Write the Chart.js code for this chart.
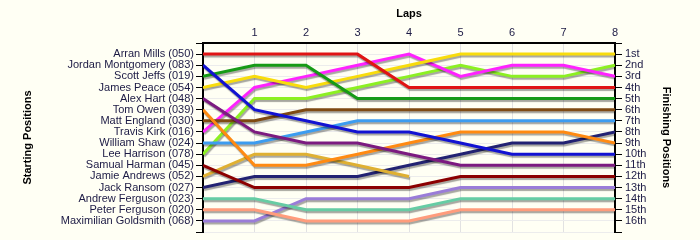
<!DOCTYPE html>
<html>
<head>
<meta charset="utf-8">
<script src="https://cdn.jsdelivr.net/npm/chart.js@4.4.1/dist/chart.umd.min.js"></script>
<style>
  html, body { margin: 0; padding: 0; background: #fffff4; }
  #wrap { width: 700px; height: 240px; }
</style>
</head>
<body>
<div id="wrap"><canvas id="c" width="700" height="240"></canvas></div>
<script>
// ---- Data ----
const laps = [0, 1, 2, 3, 4, 5, 6, 7, 8];
const drivers = [
  'Arran Mills (050)', 'Jordan Montgomery (083)', 'Scott Jeffs (019)', 'James Peace (054)',
  'Alex Hart (048)', 'Tom Owen (039)', 'Matt England (030)', 'Travis Kirk (016)',
  'William Shaw (024)', 'Lee Harrison (078)', 'Samual Harman (045)', 'Jamie Andrews (052)',
  'Jack Ransom (027)', 'Andrew Ferguson (023)', 'Peter Ferguson (020)', 'Maximilian Goldsmith (068)'
];
const finishLabels = ['1st','2nd','3rd','4th','5th','6th','7th','8th','9th','10th','11th','12th','13th','14th','15th','16th'];

const posArranMills        = [1, 1, 1, 1, 4, 4, 4, 4, 4];
const posJordanMontgomery  = [2, 6, 7, 8, 8, 9, 10, 10, 10];
const posScottJeffs        = [3, 2, 2, 5, 5, 5, 5, 5, 5];
const posJamesPeace        = [4, 3, 4, 3, 2, 1, 1, 1, 1];
const posAlexHart          = [5, 8, 9, 9, 10, 11, 11, 11, 11];
const posTomOwen           = [6, 11, 11, 10, 9, 8, 8, 8, 9];
const posMattEngland       = [7, 7, 6, 6, 6, 6, 6, 6, 6];
const posTravisKirk        = [8, 4, 3, 2, 1, 3, 2, 2, 3];
const posWilliamShaw       = [9, 9, 8, 7, 7, 7, 7, 7, 7];
const posLeeHarrison       = [10, 5, 5, 4, 3, 2, 3, 3, 2];
const posSamualHarman      = [11, 13, 13, 13, 13, 12, 12, 12, 12];
const posJamieAndrews      = [12, 10, 10, 11, 12, null, null, null, null];
const posJackRansom        = [13, 12, 12, 12, 11, 10, 9, 9, 8];
const posAndrewFerguson    = [14, 14, 15, 15, 15, 14, 14, 14, 14];
const posPeterFerguson     = [15, 15, 16, 16, 16, 15, 15, 15, 15];
const posMaxGoldsmith      = [16, 16, 14, 14, 14, 13, 13, 13, 13];

const allPositions = [
  posArranMills, posJordanMontgomery, posScottJeffs, posJamesPeace, posAlexHart, posTomOwen,
  posMattEngland, posTravisKirk, posWilliamShaw, posLeeHarrison, posSamualHarman, posJamieAndrews,
  posJackRansom, posAndrewFerguson, posPeterFerguson, posMaxGoldsmith
];

const colors = [
  '#e01414', '#1212d2', '#169a16', '#f8dc0c', '#7c1a80', '#ff8a12', '#7f4a12', '#ff22ff',
  '#3c9cf0', '#8cf022', '#8b0000', '#dfb032', '#222272', '#66cca4', '#ff9c7c', '#9a7cd8'
];

// ---- Chart ----
const textColor = '#1c1a44';
const baseFont = { family: '"Liberation Sans", Arial, sans-serif', size: 11 };
const titleFont = { family: '"Liberation Sans", Arial, sans-serif', size: 11, weight: 'bold' };

const datasets = drivers.map((name, i) => ({
  label: name,
  data: laps.map((l, j) => ({ x: l, y: allPositions[i][j] })),
  borderColor: colors[i],
  backgroundColor: colors[i],
  borderWidth: 3,
  pointRadius: 0,
  tension: 0,
  spanGaps: false,
  yAxisID: 'y'
}));

const shadowPlugin = {
  id: 'shadow',
  beforeDatasetsDraw(chart) {
    const ctx = chart.ctx;
    ctx.save();
    ctx.shadowColor = 'rgba(0,0,0,0.35)';
    ctx.shadowOffsetX = 1;
    ctx.shadowOffsetY = 2;
    ctx.shadowBlur = 1;
  },
  afterDatasetsDraw(chart) {
    chart.ctx.restore();
  }
};

const bgPlugin = {
  id: 'bg',
  beforeDraw(chart) {
    const ctx = chart.ctx;
    ctx.save();
    ctx.fillStyle = '#fffff4';
    ctx.fillRect(0, 0, chart.width, chart.height);
    ctx.restore();
  }
};

new Chart(document.getElementById('c'), {
  type: 'line',
  data: { datasets },
  plugins: [bgPlugin, shadowPlugin],
  options: {
    responsive: false,
    animation: false,
    layout: { padding: { left: 0, right: 0, top: 0, bottom: 8 } },
    plugins: { legend: { display: false }, tooltip: { enabled: false } },
    scales: {
      x: {
        type: 'linear',
        position: 'top',
        min: 0, max: 8,
        ticks: {
          stepSize: 1, color: textColor, font: baseFont, padding: 3,
          callback: v => (v === 0 ? '' : String(v))
        },
        grid: { color: '#e2e2e2', lineWidth: 1, drawTicks: false },
        border: { color: '#000', width: 2 },
        title: { display: true, text: 'Laps', color: '#000', font: titleFont, padding: { top: 7, bottom: 0 } },
        afterFit(s) { s.height = 43; s.paddingLeft = 0; s.paddingRight = 0; }
      },
      y: {
        type: 'linear',
        position: 'left',
        reverse: true,
        min: 0, max: 17,
        ticks: {
          stepSize: 1, autoSkip: false, color: textColor, font: baseFont, padding: 2,
          callback: v => (v >= 1 && v <= 16 ? drivers[v - 1] : '')
        },
        grid: { color: '#ececec', lineWidth: 1, tickColor: '#000', tickLength: 7 },
        border: { color: '#000', width: 2 },
        title: { display: true, text: 'Starting Positions', color: '#000', font: titleFont, padding: { top: 21, bottom: 0 } },
        afterFit(s) { s.width = 203; s.paddingTop = 0; s.paddingBottom = 0; }
      },
      y2: {
        type: 'linear',
        position: 'right',
        reverse: true,
        min: 0, max: 17,
        ticks: {
          stepSize: 1, autoSkip: false, color: textColor, font: baseFont, padding: 3,
          callback: v => (v >= 1 && v <= 16 ? finishLabels[v - 1] : '')
        },
        grid: { drawOnChartArea: false, tickColor: '#000', tickLength: 7 },
        border: { color: '#000', width: 2 },
        title: { display: true, text: 'Finishing Positions', color: '#000', font: titleFont, padding: { top: 27, bottom: 0 } },
        afterFit(s) { s.width = 85; s.paddingTop = 0; s.paddingBottom = 0; }
      }
    }
  }
});
</script>
</body>
</html>
